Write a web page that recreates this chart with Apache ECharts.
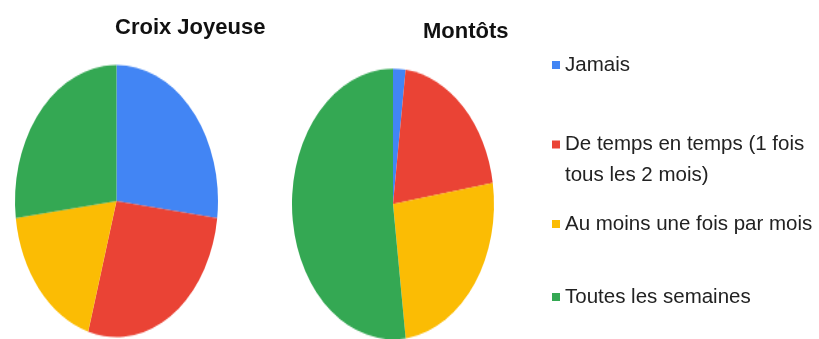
<!DOCTYPE html>
<html>
<head>
<meta charset="utf-8">
<script src="https://cdn.jsdelivr.net/npm/echarts@6/dist/echarts.min.js"></script>
<style>
  html, body { margin:0; padding:0; background:#fff; }
  #wrap { position:relative; width:819px; height:339px; overflow:hidden; }
  /* pies are drawn round, then stretched vertically into ellipses */
  #pies { position:absolute; left:0; top:0; width:819px; height:253px;
          transform:scaleY(1.34); transform-origin:0 0; }
  #text { position:absolute; left:0; top:0; width:819px; height:339px; }
</style>
</head>
<body>
<div id="wrap">
  <div id="pies"></div>
  <div id="text"></div>
</div>
<script>
var categories = ['Jamais', 'De temps en temps (1 fois\ntous les 2 mois)', 'Au moins une fois par mois', 'Toutes les semaines'];
var croixValues = [27, 27.5, 18.5, 27];
var montotsValues = [2, 20.5, 25.5, 52];
var titles = ['Croix Joyeuse', 'Montôts'];
var colors = ['#4285f4', '#ea4335', '#fbbc04', '#34a853'];

var font = '"Liberation Sans", Arial, sans-serif';

function toData(vals) {
  return categories.map(function(name, i){ return { name: name, value: vals[i] }; });
}

var pies = echarts.init(document.getElementById('pies'));
pies.setOption({
  animation: false,
  color: colors,
  series: [
    { type:'pie', center:[116.5, 150], radius:101.5, startAngle:90, clockwise:true,
      label:{show:false}, labelLine:{show:false}, silent:true,
      itemStyle:{borderWidth:0}, data: toData(croixValues) },
    { type:'pie', center:[393, 152.2], radius:101, startAngle:90, clockwise:true,
      label:{show:false}, labelLine:{show:false}, silent:true,
      itemStyle:{borderWidth:0}, data: toData(montotsValues) }
  ]
});

var txt = echarts.init(document.getElementById('text'));
var legendBase = {
  orient:'vertical', left:552, padding:0, itemWidth:8, itemHeight:8,
  icon:'rect', selectedMode:false,
  textStyle:{ fontFamily:font, fontSize:20.5, color:'#222', lineHeight:24 }
};
function legendAt(i, top) {
  return Object.assign({}, legendBase, { top: top, data:[categories[i]] });
}
// two-line item: an empty leading line keeps the square level with the first line
var legend2 = legendAt(1, 98);
legend2.textStyle = Object.assign({}, legendBase.textStyle, { lineHeight:31 });
legend2.formatter = function(name){ return '\n' + name; };

txt.setOption({
  animation: false,
  color: colors,
  title: [
    { text: titles[0], left:115, top:17, padding:0,
      textStyle:{ fontFamily:font, fontSize:22, fontWeight:'bold', color:'#111' } },
    { text: titles[1], left:423, top:21, padding:0,
      textStyle:{ fontFamily:font, fontSize:22, fontWeight:'bold', color:'#111' } }
  ],
  legend: [
    legendAt(0, 53),
    legend2,
    legendAt(2, 212),
    legendAt(3, 285)
  ],
  // invisible series that only feeds the legend its names and colours
  series: [{ type:'pie', radius:[0,0], silent:true, label:{show:false}, labelLine:{show:false},
             data: toData(croixValues) }]
});
</script>
</body>
</html>
